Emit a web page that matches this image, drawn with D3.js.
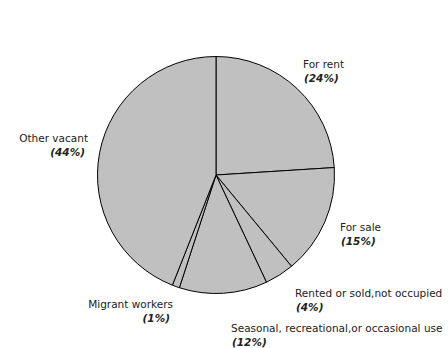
<!DOCTYPE html>
<html>
<head>
<meta charset="utf-8">
<script src="https://cdn.jsdelivr.net/npm/d3@7"></script>
<style>
  html, body { margin: 0; padding: 0; background: #fff; }
  svg { display: block; }
  text { font-family: "DejaVu Sans", sans-serif; font-size: 10.5px; fill: #222; }
  .pct { font-weight: bold; font-style: italic; }
</style>
</head>
<body>
<svg id="chart" width="448" height="348"></svg>
<script>
// Vacant housing units by reason
const categories = [
  "For rent",
  "For sale",
  "Rented or sold,not occupied",
  "Seasonal, recreational,or occasional use",
  "Migrant workers",
  "Other vacant"
];
const shares = [24, 15, 4, 12, 1, 44];

// Label placement (x, y of first line, anchor) for each slice
const labelLayout = [
  { x: 303, y: 68,  anchor: "start" },
  { x: 340, y: 231, anchor: "start" },
  { x: 295, y: 297, anchor: "start" },
  { x: 231, y: 332, anchor: "start" },
  { x: 173, y: 308, anchor: "end" },
  { x: 88,  y: 142, anchor: "end" }
];

const svg = d3.select("#chart");
const cx = 216, cy = 175, radius = 118.5;

const pie = d3.pie().sort(null).value(d => d.value);
const arc = d3.arc().innerRadius(0).outerRadius(radius);

const data = categories.map((c, i) => ({ name: c, value: shares[i] }));

const g = svg.append("g").attr("transform", `translate(${cx},${cy})`);
g.selectAll("path")
  .data(pie(data))
  .join("path")
  .attr("d", arc)
  .attr("fill", "#c0c0c0")
  .attr("stroke", "#000")
  .attr("stroke-width", 1);

const labels = svg.append("g");
data.forEach((d, i) => {
  const L = labelLayout[i];
  labels.append("text")
    .attr("x", L.x).attr("y", L.y)
    .attr("text-anchor", L.anchor)
    .text(d.name);
  const pctX = L.anchor === "end" ? L.x - 3 : L.x + 1;
  labels.append("text")
    .attr("class", "pct")
    .attr("x", pctX).attr("y", L.y + 14)
    .attr("text-anchor", L.anchor)
    .text(`(${d.value}%)`);
});
</script>
</body>
</html>
